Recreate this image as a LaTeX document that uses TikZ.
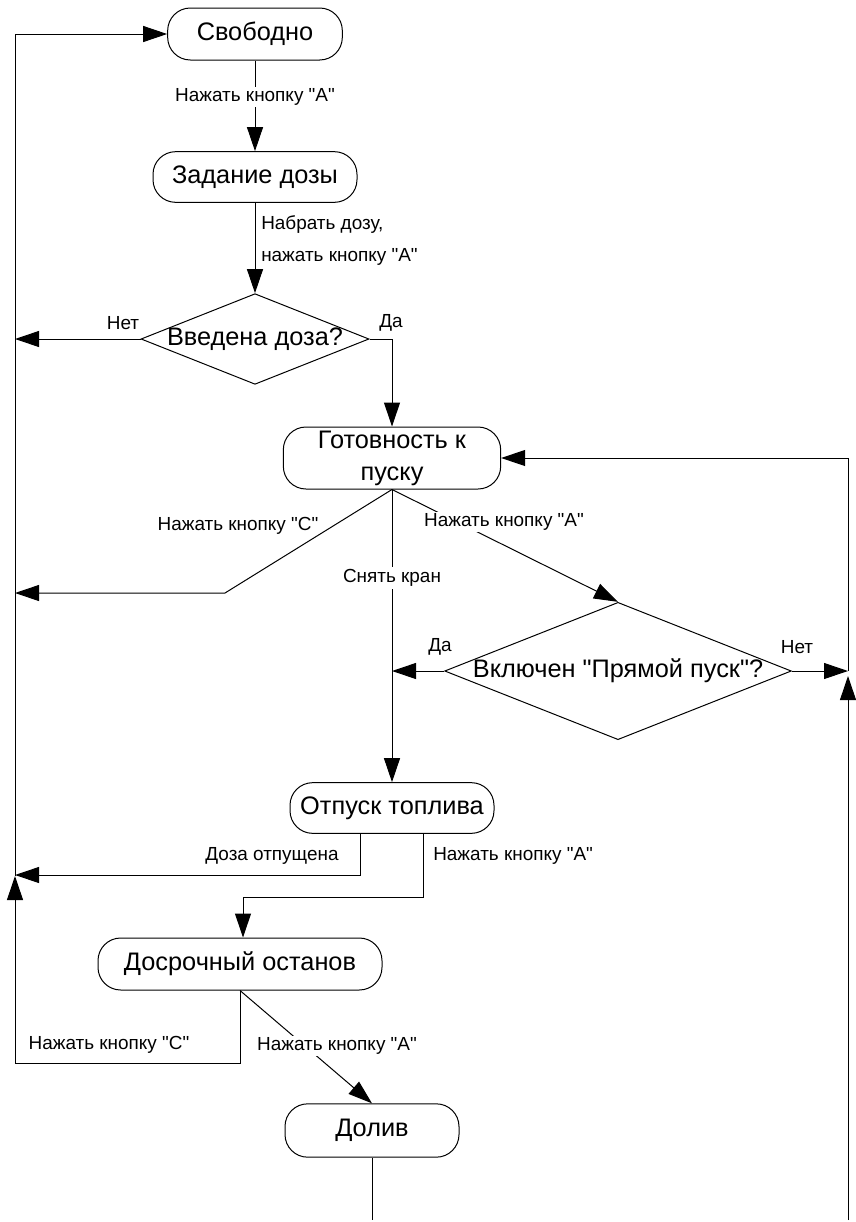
\documentclass[tikz,border=0pt]{standalone}
\usepackage{fontspec}
\setmainfont{Liberation Sans}[Ligatures=TeXOff]
\usetikzlibrary{shapes.geometric,arrows.meta}
\begin{document}
\begin{tikzpicture}[x=0.75pt,y=-0.75pt,
  term/.style={draw, rectangle, rounded corners=17pt, line width=0.75pt,
    font=\fontsize{19}{24}\selectfont, inner sep=0pt, align=center},
  dec/.style={draw, diamond, inner sep=0pt, line width=0.75pt},
  dectext/.style={font=\fontsize{19}{24}\selectfont, inner sep=0pt},
  lbl/.style={font=\fontsize{14.2}{24}\selectfont, inner sep=1.5pt},
  cut/.style={lbl, fill=white},
  arr/.style={-{Triangle[length=18pt,width=12pt]}, line width=0.75pt},
  ln/.style={line width=0.75pt}]
\useasboundingbox (0,0) rectangle (856,1222);

% nodes
\node[term, minimum width=131pt, minimum height=39pt] (svob) at (255,34) {Свободно};
\node[term, minimum width=153pt, minimum height=38pt] (zad) at (255,177) {Задание дозы};
\node[dec, minimum width=171pt, minimum height=68pt] (d1) at (255,339) {};
\node[dectext] (d1t) at (d1.center) {Введена доза?};
\node[term, minimum width=163pt, minimum height=46.5pt] (got) at (392,458) {Готовность к\\пуску};
\node[dec, minimum width=260pt, minimum height=103pt] (d2) at (618,671) {};
\node[dectext] (d2t) at (d2.center) {Включен "Прямой пуск"?};
\node[term, minimum width=153pt, minimum height=38pt] (otp) at (392,808) {Отпуск топлива};
\node[term, minimum width=213pt, minimum height=39pt] (dos) at (240,964) {Досрочный останов};
\node[term, minimum width=130.5pt, minimum height=40pt] (dol) at (372,1130.5) {Долив};

% rail coordinates
\coordinate (lt) at (15,34);
\coordinate (lm) at (15,876);
\coordinate (l339) at (15,339);
\coordinate (l593) at (15,593);
\coordinate (l875) at (15,875);
\coordinate (lb) at (15,1063);
\coordinate (c1) at (392,339);
\coordinate (k1) at (225,593);
\coordinate (m671) at (392,671);
\coordinate (r671) at (848,671);
\coordinate (rb) at (848,1220);
\coordinate (ru) at (848,676);
\coordinate (rt) at (848,458);
\coordinate (o1) at (360,875);
\coordinate (o2) at (423,897);
\coordinate (o3) at (243,897);
\coordinate (d3) at (240,1063);
\coordinate (db) at (372,1220);

% connectors
\draw[arr] (lm) -- (lt) -- (svob);
\draw[arr] (svob) -- (zad);
\node[cut] (t1) at (255,97) {Нажать кнопку "A"};
\draw[arr] (zad) -- (d1);
\node[lbl, anchor=west, align=left] (t2) at (259,241) {Набрать дозу,\\нажать кнопку "A"};
\draw[arr] (d1.west) -- (l339);
\node[lbl] (t3) at (123,323) {Нет};
\draw[arr] (d1.east) -- (c1) -- (got);
\node[lbl] (t4) at (391,323) {Да};
\draw[arr] (got.south) -- (k1) -- (l593);
\node[lbl] (t5) at (238,526) {Нажать кнопку "C"};
\draw[arr] (got.south) -- (d2.north);
\node[cut] (t6) at (504,522) {Нажать кнопку "A"};
\draw[arr] (got) -- (otp);
\node[cut] (t7) at (392,578) {Снять кран};
\draw[arr] (d2.west) -- (m671);
\node[lbl] (t8) at (440,647) {Да};
\draw[arr] (d2.east) -- (r671);
\node[lbl] (t9) at (797,647) {Нет};
\draw[arr] (rb) -- (ru);
\draw[arr] (r671) -- (rt) -- (got);
\draw[arr] (o1 |- otp.south) -- (o1) -- (l875);
\node[lbl] (t10) at (272,856) {Доза отпущена};
\draw[arr] (o2 |- otp.south) -- (o2) -- (o3) -- (o3 |- dos.north);
\node[lbl, anchor=west] (t11) at (431,856) {Нажать кнопку "A"};
\draw[arr] (dos.south) -- (d3) -- (lb) -- (lm);
\node[lbl] (t12) at (109,1045) {Нажать кнопку "C"};
\draw[arr] (dos.south) -- (dol.north);
\node[cut] (t13) at (337,1046) {Нажать кнопку "A"};
\draw[ln] (dol) -- (db);
\end{tikzpicture}
\end{document}
